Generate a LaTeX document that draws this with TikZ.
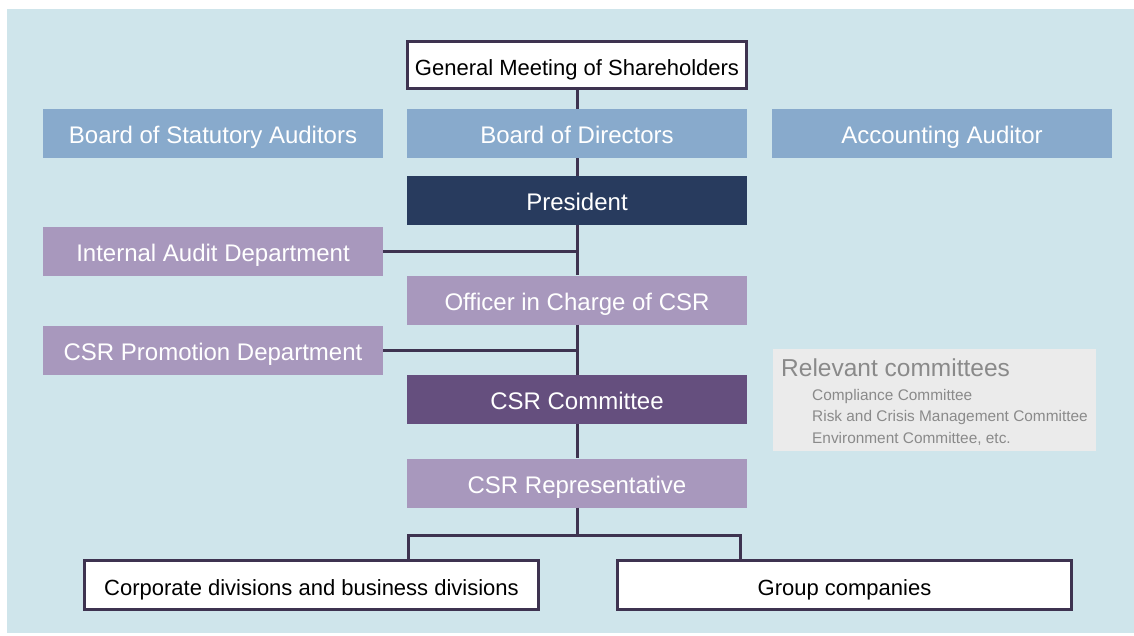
\documentclass[tikz,border=0pt]{standalone}
\usepackage{fontspec}
\setmainfont{Liberation Sans}
\usetikzlibrary{positioning}

\definecolor{bgblue}{HTML}{CFE5EB}
\definecolor{boardblue}{HTML}{88AACC}
\definecolor{navy}{HTML}{283B5E}
\definecolor{lilac}{HTML}{A898BD}
\definecolor{plum}{HTML}{654F7E}
\definecolor{wire}{HTML}{3E3350}
\definecolor{panelgray}{HTML}{EBEBEB}
\definecolor{textgray}{HTML}{8A8A8A}

\tikzset{
    box/.style={minimum width=340pt, minimum height=49pt, inner sep=0pt, text height=22pt, text depth=2pt, text=white, font=\fontsize{24}{28}\selectfont},
    openbox/.style={draw=wire, line width=3pt, fill=white, inner sep=0pt, text height=22pt, text depth=2pt, text=black, font=\fontsize{22}{26}\selectfont},
    note/.style={anchor=base west, inner sep=0pt, text=textgray, font=\fontsize{15.4}{18}\selectfont},
    link/.style={draw=wire, line width=3pt}
}

\begin{document}
\begin{tikzpicture}[x=1pt, y=-1pt]
    \useasboundingbox (0,0) rectangle (1134,635);
    \fill[bgblue] (7,9) rectangle (1134,633);

    % top of the chart
    \node (gm) at (577,65) [openbox, minimum width=339pt, minimum height=47pt] {General Meeting of Shareholders};
    \node (auditors) at (213,133.5) [box, fill=boardblue] {Board of Statutory Auditors};
    \node (board) at (577,133.5) [box, fill=boardblue] {Board of Directors};
    \node (accounting) at (942,133.5) [box, fill=boardblue] {Accounting Auditor};
    \node (president) at (577,200.5) [box, fill=navy] {President};

    % CSR line
    \node (audit) at (213,251.5) [box, fill=lilac] {Internal Audit Department};
    \node (officer) at (577,300) [box, fill=lilac] {Officer in Charge of CSR};
    \node (promotion) at (213,350.5) [box, fill=lilac] {CSR Promotion Department};
    \node (committee) at (577,399.5) [box, fill=plum] {CSR Committee};
    \node (rep) at (577,483) [box, fill=lilac] {CSR Representative};

    % side panel
    \fill[panelgray] (773,349) rectangle (1096,451);
    \node (relevant) at (781,376) [note, font=\fontsize{24.5}{28}\selectfont] {Relevant committees};
    \node (compliance) at (812,400) [note] {Compliance Committee};
    \node (risk) at (812,421.5) [note] {Risk and Crisis Management Committee};
    \node (environment) at (812,443) [note] {Environment Committee, etc.};

    % bottom row
    \node (divisions) at (311.5,585) [openbox, minimum width=454pt, minimum height=49pt] {Corporate divisions and business divisions};
    \node (group) at (844.5,585) [openbox, minimum width=454pt, minimum height=49pt] {Group companies};

    % connectors
    \draw[link] (gm.south) -- (board.north);
    \draw[link] (board.south) -- (president.north);
    \draw[link] (president.south) -- (officer.north);
    \draw[link] (officer.south) -- (committee.north);
    \draw[link] (committee.south) -- (rep.north);
    \draw[link] (audit.east) -- (audit.east -| president.south);
    \draw[link] (promotion.east) -- (promotion.east -| officer.south);

    \coordinate (splitL) at (408,535);
    \coordinate (splitR) at (740,535);
    \draw[link] (rep.south) -- (rep.south |- splitL);
    \draw[link] (divisions.north -| splitL) -- (splitL) -- (splitR) -- (group.north -| splitR);
\end{tikzpicture}
\end{document}
